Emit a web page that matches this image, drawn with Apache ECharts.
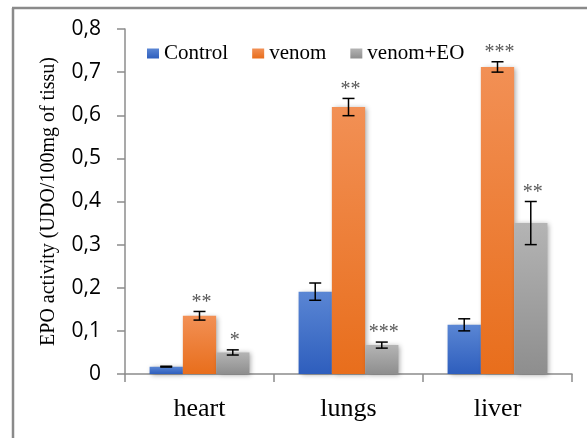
<!DOCTYPE html>
<html><head><meta charset="utf-8">
<script src="https://cdn.jsdelivr.net/npm/echarts@6/dist/echarts.min.js"></script>
<style>html,body{margin:0;padding:0;background:#fff}#c{width:587px;height:438px}</style>
</head><body><div id="c"></div>
<script>
var categories = ['heart', 'lungs', 'liver'];
var seriesNames = ['Control', 'venom', 'venom+EO'];
var controlValues = [0.017, 0.191, 0.114];
var venomValues = [0.135, 0.619, 0.712];
var venomEOValues = [0.050, 0.067, 0.350];
var controlErr = [0.001, 0.020, 0.014];
var venomErr = [0.010, 0.020, 0.012];
var venomEOErr = [0.006, 0.007, 0.050];
var controlStars = ['', '', ''];
var venomStars = ['**', '**', '***'];
var venomEOStars = ['*', '***', '**'];
var yTicks = [0, 0.1, 0.2, 0.3, 0.4, 0.5, 0.6, 0.7, 0.8];

var values = [controlValues, venomValues, venomEOValues];
var errs = [controlErr, venomErr, venomEOErr];
var stars = [controlStars, venomStars, venomEOStars];
var grads = [
  ['#5a86d4', '#2e5ebd'],
  ['#f29055', '#e86e1c'],
  ['#b4b4b4', '#8e8e8e']
];
var serif = '"Liberation Serif", "Times New Roman", serif';

var chart = echarts.init(document.getElementById('c'));
var series = [];
values.forEach(function (v, si) {
  series.push({
    name: seriesNames[si], type: 'bar', data: v,
    barGap: '0%', barCategoryGap: '33%',
    itemStyle: {
      color: new echarts.graphic.LinearGradient(0, 0, 0, 1, [
        {offset: 0, color: grads[si][0]}, {offset: 1, color: grads[si][1]}]),
      shadowBlur: 5, shadowColor: 'rgba(0,0,0,0.35)', shadowOffsetX: 2, shadowOffsetY: 1
    },
    z: 2
  });
});
values.forEach(function (v, si) {
  var data = v.map(function (val, ci) { return [ci, val, errs[si][ci], stars[si][ci]]; });
  series.push({
    type: 'custom', name: 'err' + si, data: data, z: 5,
    renderItem: function (params, api) {
      var ci = api.value(0), val = api.value(1), e = api.value(2);
      var band = api.size([1, 0])[0];
      var bw = band * 0.67 / 3;
      var off = bw * (si - 1);
      var top = api.coord([ci, val + e]);
      var bot = api.coord([ci, val - e]);
      var x = top[0] + off;
      var cap = 6;
      var st = {stroke: '#000', lineWidth: 1.5};
      var label = stars[si][ci];
      var children = [
        {type: 'line', shape: {x1: x, y1: top[1], x2: x, y2: bot[1]}, style: st},
        {type: 'line', shape: {x1: x - cap, y1: top[1], x2: x + cap, y2: top[1]}, style: st},
        {type: 'line', shape: {x1: x - cap, y1: bot[1], x2: x + cap, y2: bot[1]}, style: st}
      ];
      if (label) {
        children.push({type: 'text', style: {text: label, x: x + 2, y: top[1] + 1,
          textAlign: 'center', textVerticalAlign: 'bottom',
          font: '20px ' + serif, fill: '#595959'}});
      }
      return {type: 'group', children: children};
    }
  });
});

chart.setOption({
  animation: false,
  legend: {
    data: seriesNames, left: 142, top: 38, itemWidth: 12, itemHeight: 10, itemGap: 24,
    icon: 'rect',
    textStyle: {fontFamily: serif, fontSize: 21, color: '#000'}
  },
  grid: {left: 125, right: 15, top: 29, bottom: 64, containLabel: false},
  xAxis: {
    type: 'category', data: categories,
    axisLine: {lineStyle: {color: '#8c8c8c', width: 1.5}},
    axisTick: {show: true, length: 8, lineStyle: {color: '#8c8c8c', width: 1.5}},
    axisLabel: {fontFamily: serif, fontSize: 26, color: '#000', margin: 22}
  },
  yAxis: {
    type: 'value', min: 0, max: 0.8, interval: 0.1,
    name: 'EPO activity (UDO/100mg of tissu)', nameLocation: 'middle', nameGap: 66,
    nameTextStyle: {fontFamily: serif, fontSize: 20, color: '#000'},
    axisLine: {show: true, lineStyle: {color: '#8c8c8c', width: 1.5}},
    axisTick: {show: true, length: 8, lineStyle: {color: '#8c8c8c', width: 1.5}},
    splitLine: {show: false},
    axisLabel: {fontFamily: '"Open Sans", "Noto Sans", sans-serif', fontSize: 21, color: '#000', margin: 24,
      formatter: function (v) {
        var t = yTicks.filter(function (k) { return Math.abs(k - v) < 1e-9; });
        return t.length ? String(Math.round(v * 10) / 10).replace('.', ',') : '';
      }}
  },
  graphic: [
    {type: 'line', shape: {x1: 13, y1: 438, x2: 13, y2: 8}, style: {stroke: '#8a8a8a', lineWidth: 2.5}},
    {type: 'line', shape: {x1: 12, y1: 8, x2: 587, y2: 8}, style: {stroke: '#8a8a8a', lineWidth: 2.5}}
  ],
  series: series
});
</script></body></html>
